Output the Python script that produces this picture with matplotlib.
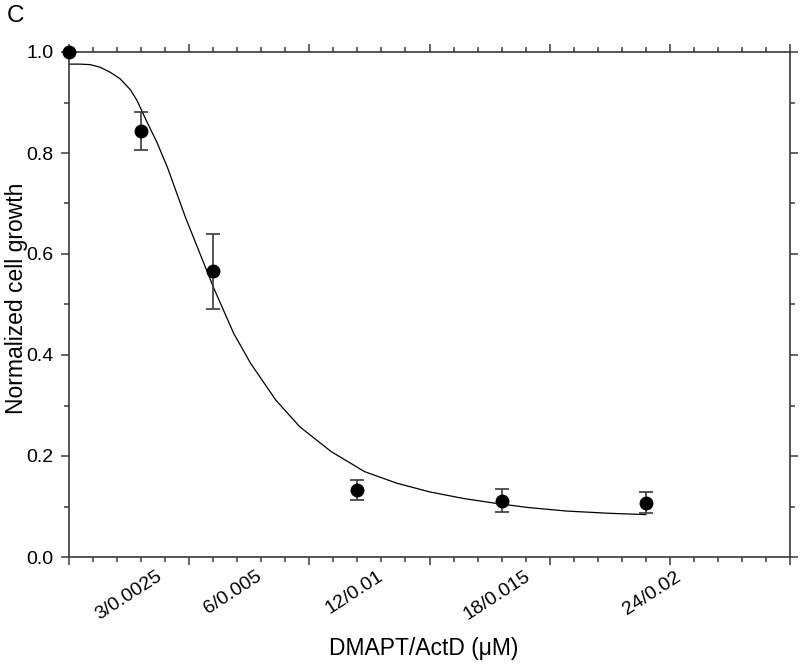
import matplotlib
matplotlib.use("Agg")
import matplotlib.pyplot as plt
from matplotlib.ticker import MultipleLocator, NullFormatter, FormatStrFormatter
from matplotlib import font_manager

plt.rcParams['font.family'] = ['Liberation Sans', 'DejaVu Sans']

# measured data points
dose_x = [0, 3, 6, 12, 18, 24]
growth = [1.0, 0.844, 0.566, 0.132, 0.1115, 0.1075]
growth_err = [0.0, 0.038, 0.074, 0.020, 0.023, 0.021]

# fitted curve
curve_x = [0.0, 0.46, 0.875, 1.29, 1.71, 2.125, 2.54, 2.82, 3.24, 3.65, 4.1,
           4.85, 5.75, 6.0, 6.85, 7.55, 8.6, 9.6, 10.9, 12.3, 13.65, 15.0,
           16.4, 17.8, 19.1, 20.7, 22.5, 24.0]
curve_y = [0.976, 0.976, 0.975, 0.970, 0.960, 0.947, 0.926, 0.905, 0.862,
           0.822, 0.771, 0.672, 0.565, 0.535, 0.443, 0.384, 0.311, 0.258,
           0.209, 0.169, 0.146, 0.129, 0.116, 0.106, 0.098, 0.091, 0.0865,
           0.084]

tick_labels = ["3/0.0025", "6/0.005", "12/0.01", "18/0.015", "24/0.02"]
tick_label_pos = [3.62, 7.75, 12.82, 18.94, 25.2]

names = {f.name for f in font_manager.fontManager.ttflist}
narrow = ['Liberation Sans Narrow', 'Liberation Sans'] if 'Liberation Sans Narrow' in names else ['Liberation Sans']

fig = plt.figure(figsize=(8.0, 6.65), dpi=100)
ax = fig.add_axes([69/800, 1 - 557/665, 721/800, 505/665])

spine_c = '#3a3a3a'
ax.plot(curve_x, curve_y, color='black', lw=0.9, zorder=2)
ax.errorbar(dose_x, growth, yerr=growth_err, fmt='o', color='black',
            ms=9, ecolor='#3a3a3a', elinewidth=1.2, capsize=5, capthick=1.2,
            zorder=3, clip_on=False)

ax.set_xlim(0, 30)
ax.set_ylim(0, 1.0)
ax.xaxis.set_major_locator(MultipleLocator(5))
ax.xaxis.set_minor_locator(MultipleLocator(1))
ax.xaxis.set_major_formatter(NullFormatter())
ax.yaxis.set_major_locator(MultipleLocator(0.2))
ax.yaxis.set_minor_locator(MultipleLocator(0.1))
ax.yaxis.set_major_formatter(FormatStrFormatter('%.1f'))

for s in ax.spines.values():
    s.set_color(spine_c)
    s.set_linewidth(1.2)

ax.tick_params(which='both', direction='out', top=True, right=True,
               color=spine_c, width=1.1)
ax.tick_params(which='major', length=6)
ax.tick_params(which='minor', length=3.5)
ax.tick_params(axis='y', which='major', labelsize=14, pad=5)

for lbl, xp in zip(tick_labels, tick_label_pos):
    ax.text(xp, -0.022, lbl, rotation=33, rotation_mode='anchor',
            ha='right', va='top', fontsize=15.5 if len(narrow) > 1 else 14,
            family=narrow, clip_on=False)

ax.set_xlabel("DMAPT/ActD (\u03bcM)", fontsize=16.5)
ax.xaxis.set_label_coords(0.492, -0.158)
ax.set_ylabel("Normalized cell growth", fontsize=16.5)
ax.yaxis.set_label_coords(-0.057, 0.513)

fig.text(7/800, 1 - 5/665, "C", fontsize=17.5, ha='left', va='top')

fig.savefig("out.png", dpi=100)
